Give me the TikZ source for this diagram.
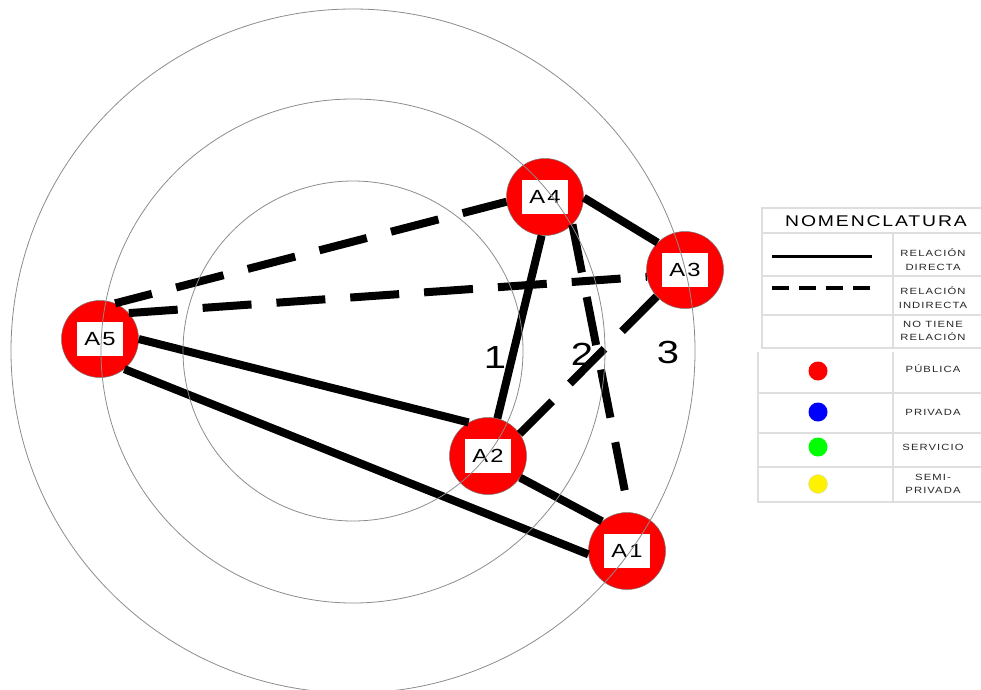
\documentclass[tikz,border=0pt]{standalone}
\usepackage{fontspec}
\setmainfont{Liberation Sans}
\newfontfamily\widefont[FakeStretch=1.25,LetterSpace=12]{Liberation Sans}
\begin{document}
\begin{tikzpicture}[x=1pt,y=-1pt,
  area/.style={circle,fill=red,draw=black!55,line width=0.5pt,minimum size=77pt,inner sep=0pt},
  tag/.style={fill=white,minimum width=46pt,minimum height=34pt,inner sep=0pt,
    font=\widefont\fontsize{19}{19}\selectfont},
  direct/.style={line width=8pt},
  indirect/.style={line width=8pt,dash pattern=on 49pt off 25pt},
  zone/.style={draw=black!45,line width=0.8pt},
  ring/.style={font=\widefont\fontsize{32}{32}\selectfont},
  grid/.style={draw=black!13,line width=1.3pt},
  key/.style={font=\widefont\fontsize{9}{13.5}\selectfont,text=black!85,align=center},
  dot/.style={circle,minimum size=19pt,inner sep=0pt}]
\useasboundingbox (0,0) rectangle (981,689);
\clip (0,0) rectangle (981,689);
\node[area] (A4) at (545,197) {};
\node[area] (A3) at (685,270) {};
\node[area] (A5) at (100,339) {};
\node[area] (A2) at (488,456) {};
\node[area] (A1) at (627,551) {};
\node[tag] (t4) at (A4) {A4};
\node[tag] (t3) at (A3) {A3};
\node[tag] (t5) at (A5) {A5};
\node[tag] (t2) at (A2) {A2};
\node[tag] (t1) at (A1) {A1};
% relaciones
\draw[direct] (A4.-1) -- (A3.135);
\draw[direct] (A4.265) -- (A2.76);
\draw[direct] (A5.0) -- (A2.120);
\draw[direct] (A5.-51) -- (A1.185);
\draw[direct] (A2.-34) -- (A1.130);
\draw[indirect,dash phase=11pt] (A5.67) -- (A4.187);
\draw[indirect] (A5.42) -- (A3.190);
\draw[indirect] (A4.-45) -- (A1.87);
\draw[indirect] (A3.223) -- (A2.35);
\draw[zone] (353,351) circle (170pt) circle (252pt) circle (342pt);
\node[ring] (r1) at (495,357) {1};
\node[ring] (r2) at (582,354) {2};
\node[ring] (r3) at (668,352) {3};
% nomenclatura
\draw[grid] (981,208) -- (762,208) -- (762,348) -- (981,348);
\draw[grid] (762,233) -- (981,233) (762,276) -- (981,276) (762,315) -- (981,315) (893,233) -- (893,348);
\draw[grid] (758,352) -- (758,502) -- (981,502) (758,393) -- (981,393) (758,433) -- (981,433)
  (758,467) -- (981,467) (893,352) -- (893,502);
\node[font=\widefont\fontsize{15.5}{16}\selectfont] (title) at (876,221) {NOMENCLATURA};
\draw[line width=3pt] (772,256) -- (872,256);
\draw[line width=3.5pt,dash pattern=on 17pt off 10pt] (772,288) -- (870,288);
\node[key] (k1) at (933,259.5) {RELACIÓN\\DIRECTA};
\node[key] (k2) at (933,297.5) {RELACIÓN\\INDIRECTA};
\node[key] (k3) at (933,331) {NO TIENE\\RELACIÓN};
\node[dot,fill=red] (d1) at (818,371) {};
\node[dot,fill=blue] (d2) at (818,412) {};
\node[dot,fill=green] (d3) at (818,447) {};
\node[dot,fill=yellow,draw=black!15] (d4) at (818,484) {};
\node[key] (k4) at (933,369) {PÚBLICA};
\node[key] (k5) at (933,412) {PRIVADA};
\node[key] (k6) at (933,447) {SERVICIO};
\node[key] (k7) at (933,484) {SEMI-\\PRIVADA};
\end{tikzpicture}
\end{document}
